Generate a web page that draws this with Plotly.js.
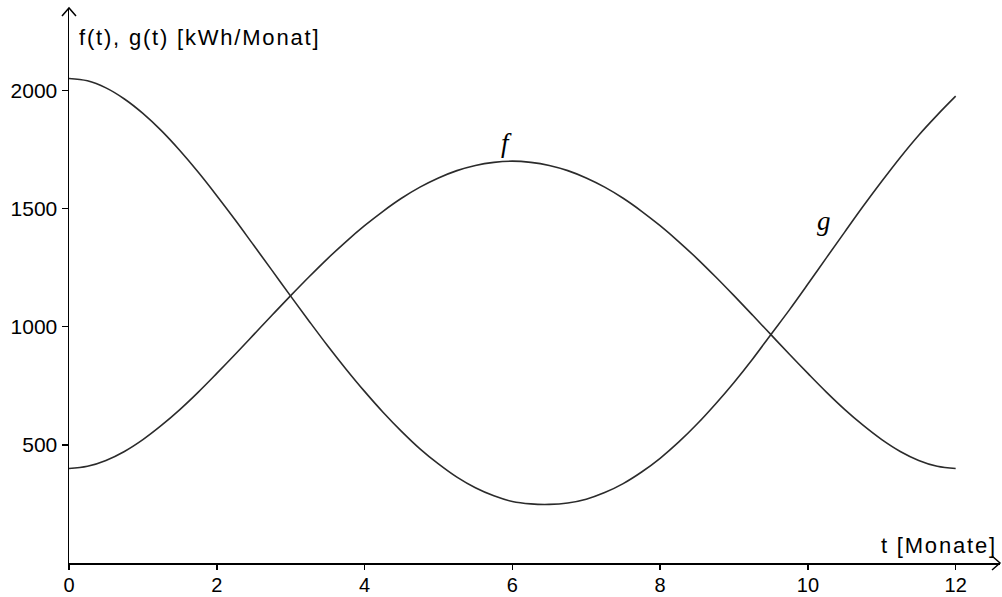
<!DOCTYPE html>
<html>
<head>
<meta charset="utf-8">
<script src="https://cdn.plot.ly/plotly-3.0.1.min.js"></script>
<style>
  html, body { margin: 0; padding: 0; background: #fff; }
  #chart { width: 1002px; height: 597px; }
  .annotation-text { letter-spacing: 1.8px; }
</style>
</head>
<body>
<div id="chart"></div>
<script>
// months
var months = [0, 0.25, 0.5, 0.75, 1, 1.25, 1.5, 1.75, 2, 2.25, 2.5, 2.75, 3,
              3.25, 3.5, 3.75, 4, 4.25, 4.5, 4.75, 5, 5.25, 5.5, 5.75, 6,
              6.25, 6.5, 6.75, 7, 7.25, 7.5, 7.75, 8, 8.25, 8.5, 8.75, 9,
              9.25, 9.5, 9.75, 10, 10.25, 10.5, 10.75, 11, 11.25, 11.5, 11.75, 12];

// f(t) in kWh/Monat
var fValues = [400, 409, 434, 472, 522, 582, 649, 723, 802, 883, 966, 1049, 1131,
               1211, 1288, 1360, 1427, 1488, 1543, 1590, 1629, 1660, 1682, 1695, 1700,
               1695, 1682, 1660, 1629, 1590, 1543, 1488, 1427, 1360, 1288, 1211, 1131,
               1049, 966, 883, 802, 723, 649, 582, 522, 472, 434, 409, 400];

// g(t) in kWh/Monat
var gValues = [2050, 2040, 2010, 1963, 1902, 1829, 1745, 1653, 1554, 1451, 1344, 1237, 1129,
               1023, 919, 820, 726, 638, 557, 483, 419, 363, 318, 284, 260,
               250, 248, 254, 270, 298, 336, 385, 443, 511, 588, 673, 764,
               862, 967, 1071, 1180, 1291, 1401, 1510, 1615, 1716, 1810, 1895, 1975];

var xTicks = [0, 2, 4, 6, 8, 10, 12];
var yTicks = [500, 1000, 1500, 2000];

var lineStyle = {color: "#2b2b2b", width: 1.6, shape: "spline", smoothing: 1};

var traceF = {x: months, y: fValues, name: "f", type: "scatter", mode: "lines", line: lineStyle};
var traceG = {x: months, y: gValues, name: "g", type: "scatter", mode: "lines", line: lineStyle};

var yTickFont = {family: "Liberation Sans, Arial, sans-serif", size: 21, color: "#000"};
var xTickFont = {family: "Liberation Sans, Arial, sans-serif", size: 20, color: "#000"};
var labelFont = {family: "Liberation Sans, Arial, sans-serif", size: 22, color: "#000"};
var curveFont = {family: "Liberation Serif, Times New Roman, serif", size: 27, color: "#000", style: "italic"};

var layout = {
  width: 1002,
  height: 597,
  margin: {l: 69, r: 2, t: 8, b: 34, pad: 0},
  paper_bgcolor: "#fff",
  plot_bgcolor: "#fff",
  showlegend: false,
  xaxis: {
    range: [0, 12.6],
    tickvals: xTicks,
    ticktext: xTicks.map(String),
    showgrid: false,
    zeroline: false,
    showline: true,
    linecolor: "#000",
    linewidth: 1.5,
    ticks: "outside",
    ticklen: 5,
    tickwidth: 1.5,
    tickcolor: "#000",
    tickfont: xTickFont,
    ticklabelstandoff: -2,
    fixedrange: true
  },
  yaxis: {
    range: [0, 2348],
    tickvals: yTicks,
    ticktext: yTicks.map(String),
    showgrid: false,
    zeroline: false,
    showline: true,
    linecolor: "#000",
    linewidth: 1.5,
    ticks: "outside",
    ticklen: 6,
    tickwidth: 1.5,
    tickcolor: "#000",
    tickfont: yTickFont,
    fixedrange: true
  },
  annotations: [
    {x: 0.11, y: 2223, xref: "x", yref: "y", text: "f(t), g(t) [kWh/Monat]", showarrow: false,
     xanchor: "left", yanchor: "middle", font: labelFont},
    {x: 12.58, y: 76, xref: "x", yref: "y", text: "t [Monate]", showarrow: false,
     xanchor: "right", yanchor: "middle", font: labelFont},
    {x: 5.92, y: 1775, xref: "x", yref: "y", text: "f", showarrow: false, font: curveFont},
    {x: 10.23, y: 1445, xref: "x", yref: "y", text: "g", showarrow: false, font: curveFont}
  ],
  shapes: [
    // arrow head on top of the vertical axis
    {type: "path", xref: "paper", yref: "paper", xsizemode: "pixel", ysizemode: "pixel",
     xanchor: 0, yanchor: 1, path: "M -7 -8 L 0 0 L 7 -8", line: {color: "#000", width: 1.5}},
    // arrow head at the right end of the horizontal axis
    {type: "path", xref: "paper", yref: "paper", xsizemode: "pixel", ysizemode: "pixel",
     xanchor: 1, yanchor: 0, path: "M -8 7 L 0 0 L -8 -7", line: {color: "#000", width: 1.5}}
  ]
};

var config = {staticPlot: true};
Plotly.newPlot("chart", [traceF, traceG], layout, config);
</script>
</body>
</html>
